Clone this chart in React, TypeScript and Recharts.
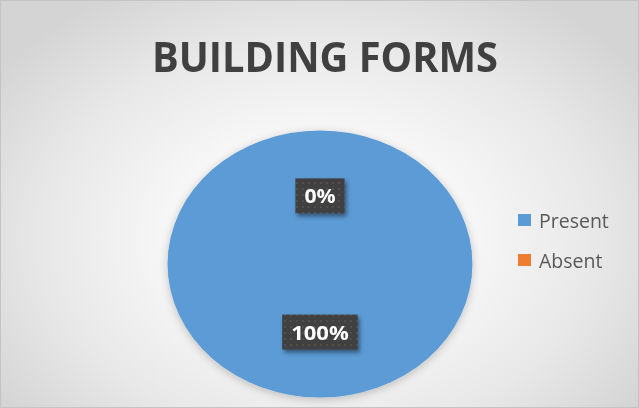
import { Cell, Legend, Pie, PieChart } from "recharts";

// Share of surveyed buildings by whether the building form is present.
const categories = ["Present", "Absent"];
const shares = [100, 0];
const sliceColors = ["#5B9BD5", "#ED7D31"];

const data = categories.map((name, i) => ({ name, value: shares[i] }));

const W = 639;
const H = 408;
const STRETCH_X = 1.142; // the original pie is drawn slightly wider than tall
const RAD = Math.PI / 180;
const FONT = "'Open Sans', 'DejaVu Sans', sans-serif";

// Sector drawn as part of an ellipse, from the angles Recharts computes.
function EllipseSector(props: any) {
  const { cx, cy, outerRadius, startAngle, endAngle, fill } = props;
  const sweep = endAngle - startAngle;
  if (Math.abs(sweep) < 1e-6) return <g />;
  const rx = outerRadius * STRETCH_X;
  const ry = outerRadius;
  if (Math.abs(sweep) >= 359.999) {
    return <ellipse cx={cx} cy={cy} rx={rx} ry={ry} fill={fill} filter="url(#pieShadow)" />;
  }
  const pt = (a: number) => [cx + rx * Math.cos(-a * RAD), cy + ry * Math.sin(-a * RAD)];
  const [x1, y1] = pt(startAngle);
  const [x2, y2] = pt(endAngle);
  const large = Math.abs(sweep) > 180 ? 1 : 0;
  const dir = sweep < 0 ? 1 : 0;
  return (
    <path
      d={`M${cx},${cy} L${x1},${y1} A${rx},${ry} 0 ${large} ${dir} ${x2},${y2} Z`}
      fill={fill}
      filter="url(#pieShadow)"
    />
  );
}

// rough glyph widths for the bold label font, to size the dark box
const labelWidth = (s: string) =>
  s.split("").reduce((w, ch) => w + (ch === "%" ? 18 : 13.2), 0);

function BoxLabel(props: any) {
  const { cx, cy, midAngle, outerRadius, percent } = props;
  const r = outerRadius * 0.51;
  const x = cx + r * STRETCH_X * Math.cos(-midAngle * RAD);
  const y = cy + r * Math.sin(-midAngle * RAD);
  const text = `${Math.round((percent ?? 0) * 100)}%`;
  const tw = labelWidth(text);
  const bw = tw + 18;
  const bh = 35;
  return (
    <g>
      <rect
        x={x - bw / 2}
        y={y - bh / 2}
        width={bw}
        height={bh}
        fill="url(#dotFill)"
        filter="url(#boxShadow)"
      />
      <text
        x={x}
        y={y + 7.5}
        textAnchor="middle"
        fill="#ffffff"
        fontFamily={FONT}
        fontWeight={700}
        fontSize={20}
        textLength={tw}
        lengthAdjust="spacingAndGlyphs"
      >
        {text}
      </text>
    </g>
  );
}

// keep the legend in series order (Recharts sorts the payload by name)
function LegendList({ payload }: any) {
  const seen = new Set((payload ?? []).map((p: any) => p.value as string));
  const names = categories.filter((c) => seen.size === 0 || seen.has(c));
  return (
    <div style={{ fontFamily: FONT, fontSize: 19.5, color: "#595959" }}>
      {names.map((name) => (
        <div key={name} style={{ display: "flex", alignItems: "center", height: 40 }}>
          <span
            style={{
              width: 13,
              height: 12,
              marginRight: 8,
              background: sliceColors[categories.indexOf(name)],
            }}
          />
          <span>{name}</span>
        </div>
      ))}
    </div>
  );
}

export default function App() {
  return (
    <div
      style={{
        position: "fixed",
        left: 0,
        top: 0,
        width: W,
        height: H,
        boxSizing: "border-box",
        border: "1px solid #c4c4c4",
        background:
          "radial-gradient(ellipse 62% 70% at 50% 58%, #ffffff 0%, #f8f8f8 35%, #e8e8e8 70%, #d4d4d4 100%)",
      }}
    >
      <svg width={0} height={0} style={{ position: "absolute" }}>
        <defs>
          <pattern id="dotFill" width={6} height={6} patternUnits="userSpaceOnUse">
            <rect width={6} height={6} fill="#3f3f3f" />
            <circle cx={3} cy={3} r={0.9} fill="#575757" />
          </pattern>
          <filter id="boxShadow" x="-20%" y="-20%" width="150%" height="160%">
            <feDropShadow dx={2} dy={3} stdDeviation={2} floodColor="#000" floodOpacity={0.45} />
          </filter>
          <filter id="pieShadow" x="-10%" y="-10%" width="120%" height="125%">
            <feDropShadow dx={0} dy={2} stdDeviation={4} floodColor="#000" floodOpacity={0.22} />
          </filter>
        </defs>
      </svg>

      <svg width={W} height={90} style={{ position: "absolute", left: 0, top: 0 }}>
        <text
          x={324}
          y={71}
          textAnchor="middle"
          fill="#404040"
          fontFamily={FONT}
          fontWeight={700}
          fontSize={42}
          textLength={346}
          lengthAdjust="spacingAndGlyphs"
        >
          BUILDING FORMS
        </text>
      </svg>

      <div style={{ position: "absolute", left: -1, top: -1 }}>
        <PieChart width={W} height={H} margin={{ top: 0, right: 0, bottom: 0, left: 0 }}>
          <Pie
            data={data}
            dataKey="value"
            nameKey="name"
            cx={320}
            cy={264}
            outerRadius={133.5}
            startAngle={90}
            endAngle={-270}
            stroke="none"
            labelLine={false}
            label={BoxLabel}
            shape={EllipseSector}
            isAnimationActive={false}
          >
            {data.map((d, i) => (
              <Cell key={d.name} fill={sliceColors[i]} />
            ))}
          </Pie>
          <Legend
            layout="vertical"
            align="right"
            verticalAlign="top"
            wrapperStyle={{ left: 518, top: 200, width: 120 }}
            content={LegendList}
          />
        </PieChart>
      </div>
    </div>
  );
}
